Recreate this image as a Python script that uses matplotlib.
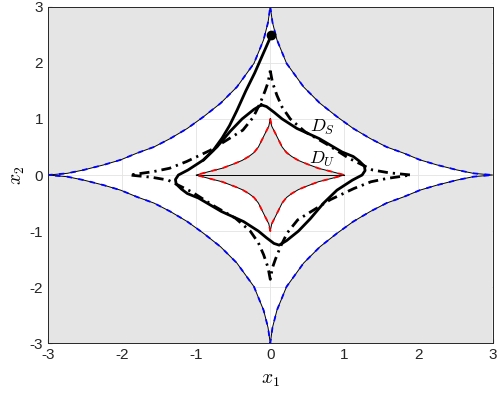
import numpy as np
import matplotlib.pyplot as plt

plt.rcParams['font.family'] = 'Liberation Sans'
plt.rcParams['mathtext.fontset'] = 'cm'
plt.rcParams['axes.unicode_minus'] = False

# outer boundary, first quadrant (mirrored into the other three)
outer_x = [0.0, 0.03, 0.09, 0.22, 0.45, 0.67, 0.9, 1.12, 1.35, 1.57, 1.8, 2.02, 2.25, 2.52, 2.74, 3.0]
outer_y = [3.0, 2.72, 2.41, 1.99, 1.57, 1.28, 1.04, 0.83, 0.65, 0.5, 0.39, 0.27, 0.18, 0.09, 0.03, 0.0]

# inner boundary, first quadrant
inner_x = [0.0, 0.02, 0.07, 0.16, 0.22, 0.29, 0.38, 0.47, 0.65, 0.83, 1.0]
inner_y = [1.0, 0.87, 0.74, 0.5, 0.4, 0.33, 0.26, 0.21, 0.12, 0.06, 0.0]

# D_S boundary: arcs from the top cusp to the right / left cusp
ds_right_x = [0.0, 0.03, 0.09, 0.16, 0.27, 0.47, 0.75, 1.06, 1.38, 1.6, 1.9]
ds_right_y = [1.86, 1.65, 1.42, 1.21, 1.0, 0.77, 0.56, 0.3, 0.09, 0.04, 0.0]
ds_left_x = [0.0, -0.03, -0.07, -0.14, -0.23, -0.37, -0.59, -0.81, -1.13, -1.36, -1.58, -1.9]
ds_left_y = [1.86, 1.65, 1.5, 1.27, 1.03, 0.8, 0.62, 0.44, 0.24, 0.12, 0.06, 0.0]

# half of the limit cycle (top -> right -> bottom), rest by point symmetry
cyc_x = [-0.12, -0.05, 0.05, 0.16, 0.36, 0.66, 0.97, 1.12, 1.2, 1.27, 1.28, 1.24, 1.11, 0.9, 0.72, 0.54, 0.38, 0.22]
cyc_y = [1.25, 1.22, 1.12, 1.0, 0.83, 0.65, 0.41, 0.33, 0.25, 0.16, 0.08, 0.0, -0.09, -0.27, -0.5, -0.78, -1.0, -1.17]

# trajectory from the initial point until it joins the cycle
traj_x = [0.01, -0.1, -0.21, -0.33, -0.45, -0.55, -0.65, -0.77, -0.9]
traj_y = [2.48, 2.15, 1.82, 1.5, 1.15, 0.88, 0.66, 0.44, 0.27]
x0 = (0.01, 2.5)

gray = '#e5e5e5'


def closed(qx, qy):
    qx = np.array(qx)
    qy = np.array(qy)
    xs = np.concatenate([qx, qx[::-1], -qx, -qx[::-1]])
    ys = np.concatenate([qy, -qy[::-1], -qy, qy[::-1]])
    return xs, ys


fig = plt.figure(figsize=(4.98, 4.01), dpi=100)
ax = fig.add_axes([0.0964, 0.1439, 0.8926, 0.8393])
ax.set_axisbelow(True)
ax.grid(True, color='#e3e3e3', lw=0.6)

# gray corners outside the outer boundary
ox = np.array(outer_x)
oy = np.array(outer_y)
for sx in (1, -1):
    for sy in (1, -1):
        ax.fill(np.append(sx * ox, sx * 3), np.append(sy * oy, sy * 3), color=gray, lw=0, zorder=1)

xo, yo = closed(outer_x, outer_y)
ax.plot(xo, yo, color='k', lw=0.7, zorder=2)
ax.plot(xo, yo, color='b', lw=1.3, ls=(0, (3, 3.5)), zorder=3)

xi, yi = closed(inner_x, inner_y)
ax.fill(xi, yi, color=gray, lw=0, zorder=1)
ax.plot(xi, yi, color='k', lw=0.7, zorder=2)
ax.plot(xi, yi, color='r', lw=1.3, ls=(0, (3, 3.5)), zorder=3)
ax.plot([-1, 1], [0, 0], color='k', lw=0.7, zorder=2)

# D_S boundary as one closed dash-dot curve
rx, ry = np.array(ds_right_x), np.array(ds_right_y)
lx, ly = np.array(ds_left_x), np.array(ds_left_y)
dx = np.concatenate([rx, -lx[::-1], -rx, lx[::-1]])
dy = np.concatenate([ry, -ly[::-1], -ry, ly[::-1]])
ax.plot(dx, dy, color='k', lw=2, ls=(0, (3.6, 1.8, 0.8, 1.8)), zorder=4)

cx, cy = np.array(cyc_x), np.array(cyc_y)
ax.plot(np.concatenate([cx, -cx, cx[:1]]), np.concatenate([cy, -cy, cy[:1]]), color='k', lw=2, zorder=5)
ax.plot(traj_x, traj_y, color='k', lw=2, zorder=5)
ax.plot(*x0, 'o', color='k', ms=6, zorder=6)

ax.text(0.7, 0.85, r'$D_S$', fontsize=13, ha='center', va='center', zorder=7)
ax.text(0.7, 0.27, r'$D_U$', fontsize=13, ha='center', va='center', zorder=7)

ax.set_xlim(-3, 3)
ax.set_ylim(-3, 3)
ax.set_xticks(range(-3, 4))
ax.set_yticks(range(-3, 4))
ax.tick_params(direction='in', length=3, labelsize=11, colors='#262626')
for s in ax.spines.values():
    s.set_color('#262626')
    s.set_linewidth(0.7)
    s.set_zorder(8)
ax.set_xlabel(r'$x_1$', fontsize=14, labelpad=7)
ax.set_ylabel(r'$x_2$', fontsize=14, labelpad=2)

fig.savefig('out.png', dpi=100)
